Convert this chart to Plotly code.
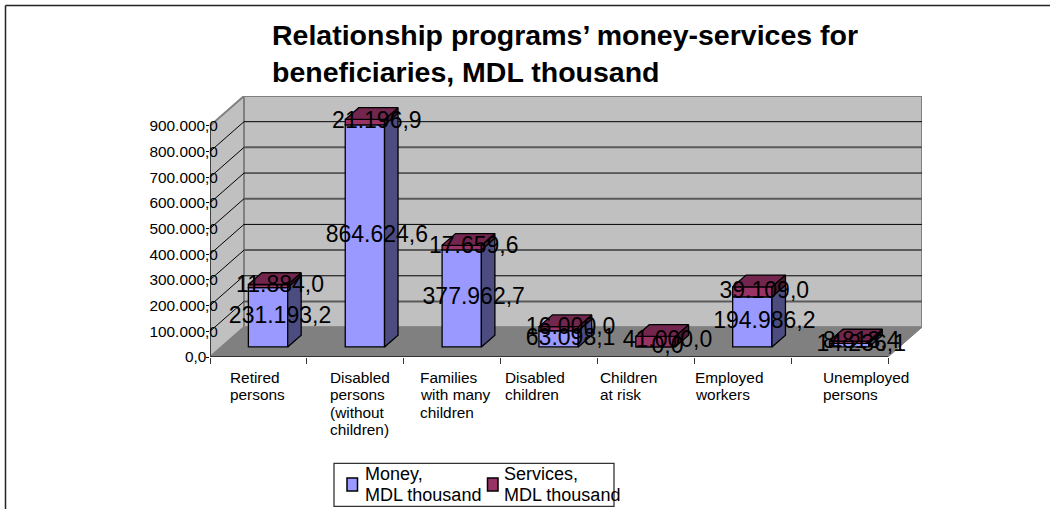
import plotly.graph_objects as go

# Chart values, MDL thousand
categories = ["Retired<br>persons", "Disabled<br>persons<br>(without<br>children)",
              "Families<br>with many<br>children", "Disabled<br>children",
              "Children<br>at risk", "Employed<br>workers", "Unemployed<br>persons"]
money = [231193.2, 864624.6, 377962.7, 63098.1, 0.0, 194986.2, 14236.1]
services = [11884.0, 21196.9, 17659.6, 16000.0, 41000.0, 39109.0, 8813.4]
tick_values = [0, 100000, 200000, 300000, 400000, 500000, 600000, 700000, 800000, 900000]
tick_labels = ["0,0\u00a0\u00a0\u2009", "100.000,0", "200.000,0", "300.000,0", "400.000,0",
               "500.000,0", "600.000,0", "700.000,0", "800.000,0", "900.000,0"]
series_names = ["Money,<br>MDL thousand", "Services,<br>MDL thousand"]
title_text = "Relationship programs’ money-services for<br>beneficiaries, MDL thousand"

# Page geometry of the oblique box, in pixels
W, H = 1050, 509
LEFT, BASE, RIGHT, TOP = 210, 356.7, 922, 96
STEP_PX = 96.86
UNIT_PX = 25.56 / 100000       # pixels per MDL thousand
BOX_DX_PX, BOX_DY_PX = 34, 29.7
BAR_W_PX, BAR_DX_PX, BAR_DY_PX = 39.3, 13.5, 11.7
BAR_SHIFT_PX, BAR_FLOOR_PX, LABEL_SHIFT_PX = 9.6, 10, 12

SANS = "Liberation Sans, Arial, sans-serif"
MONEY_COLORS = ("#9999FF", "#4C4C80")
SERVICE_COLORS = ("#993366", "#4D1A33", "#73264D")

ux = 1 / STEP_PX
uy = 1 / UNIT_PX
x0 = -0.5
x_end = 6.5
box_dx, box_dy = BOX_DX_PX * ux, BOX_DY_PX * uy
bar_w, bar_dx, bar_dy = BAR_W_PX * ux, BAR_DX_PX * ux, BAR_DY_PX * uy
floor = BAR_FLOOR_PX * uy
top_value = tick_values[-1]
centres = [i + BAR_SHIFT_PX * ux for i in range(len(money))]


def px(x):
    return (x - LEFT) / (RIGHT - LEFT)


def py(y):
    return (BASE - y) / (BASE - TOP)


def poly(points, fill, line="black", width=1.3):
    path = "M" + " L".join(f"{a},{b}" for a, b in points) + " Z"
    return dict(type="path", path=path, xref="x", yref="y", layer="below",
                fillcolor=fill, line=dict(color=line, width=width))


def seg(a, b, color, width):
    return dict(type="line", xref="x", yref="y", layer="below", x0=a[0], y0=a[1],
                x1=b[0], y1=b[1], line=dict(color=color, width=width))


def face_trace(points, fill):
    xs = [p[0] for p in points] + [points[0][0]]
    ys = [p[1] for p in points] + [points[0][1]]
    return go.Scatter(x=xs, y=ys, mode="lines", fill="toself", fillcolor=fill,
                      line=dict(color="black", width=1.3), hoverinfo="skip", showlegend=False)


def fmt(v):
    whole, dec = f"{v:,.1f}".split(".")
    return whole.replace(",", ".") + "," + dec


fig = go.Figure()

# Front faces are ordinary stacked bars lifted off the floor edge
money_base = [floor] * len(money)
service_base = [floor + m for m in money]
fig.add_bar(x=centres, y=money, base=money_base, width=bar_w, name="Money",
            marker=dict(color=MONEY_COLORS[0], line=dict(color="black", width=1.3)))
fig.add_bar(x=centres, y=services, base=service_base, width=bar_w, name="Services",
            marker=dict(color=SERVICE_COLORS[0], line=dict(color="black", width=1.3)))

# Side and top faces
for c, m, s in zip(centres, money, services):
    xr, xl = c + bar_w / 2, c - bar_w / 2
    b0, b1, b2 = floor, floor + m, floor + m + s
    if m > 0:
        fig.add_trace(face_trace([(xr, b0), (xr + bar_dx, b0 + bar_dy),
                                  (xr + bar_dx, b1 + bar_dy), (xr, b1)], MONEY_COLORS[1]))
    fig.add_trace(face_trace([(xr, b1), (xr + bar_dx, b1 + bar_dy),
                              (xr + bar_dx, b2 + bar_dy), (xr, b2)], SERVICE_COLORS[1]))
    fig.add_trace(face_trace([(xl, b2), (xr, b2), (xr + bar_dx, b2 + bar_dy),
                              (xl + bar_dx, b2 + bar_dy)], SERVICE_COLORS[2]))

# Value labels at the middle of each stacked segment
label_x = [c + LABEL_SHIFT_PX * ux for c in centres]
fig.add_scatter(x=label_x, y=[floor + m / 2 for m in money], mode="text",
                text=[fmt(v) for v in money], textposition="middle center",
                textfont=dict(family=SANS, size=23, color="black"),
                cliponaxis=False, hoverinfo="skip", showlegend=False)
fig.add_scatter(x=label_x, y=[floor + m + s / 2 for m, s in zip(money, services)], mode="text",
                text=[fmt(v) for v in services], textposition="middle center",
                textfont=dict(family=SANS, size=23, color="black"),
                cliponaxis=False, hoverinfo="skip", showlegend=False)

# Walls and floor of the box
wall_top = top_value
shapes = [
    poly([(x0 + box_dx, box_dy), (x0 + box_dx, wall_top + box_dy),
          (x_end + box_dx, wall_top + box_dy), (x_end + box_dx, box_dy)], "#C0C0C0", "#808080", 2),
    poly([(x0, 0), (x0 + box_dx, box_dy), (x0 + box_dx, wall_top + box_dy), (x0, wall_top)],
         "#C0C0C0", "#808080", 2),
]
for i, v in enumerate(tick_values[1:-1]):
    thin = i % 2 == 1
    shapes.append(seg((x0 + box_dx, v + box_dy), (x_end + box_dx, v + box_dy),
                      "black" if thin else "#5A5A5A", 1 if thin else 2))
for v in tick_values[1:-1]:
    shapes.append(seg((x0, v), (x0 + box_dx, v + box_dy), "black", 1))
shapes.append(poly([(x0, 0), (x_end, 0), (x_end + box_dx, box_dy), (x0 + box_dx, box_dy)],
                   "#808080", "#808080", 1))
shapes.append(seg((x0, 0), (x0, top_value), "black", 1))
shapes.append(seg((x0, 0), (x_end, 0), "#333333", 2))

# Outer frame, open towards the right and bottom of the page
for a, b in [((5.5, 5.5), (W, 5.5)), ((5.5, 5.5), (5.5, H))]:
    shapes.append(dict(type="line", xref="paper", yref="paper", x0=px(a[0]), y0=py(a[1]),
                       x1=px(b[0]), y1=py(b[1]), line=dict(color="#222222", width=1.5)))

# Legend box and swatches
shapes.append(dict(type="rect", xref="paper", yref="paper", x0=px(334), x1=px(614),
                   y0=py(463), y1=py(506), line=dict(color="#333333", width=1.3)))
for sx, color in [(347, MONEY_COLORS[0]), (487.5, SERVICE_COLORS[0])]:
    shapes.append(dict(type="rect", xref="paper", yref="paper", x0=px(sx), x1=px(sx + 10.5),
                       y0=py(477.5), y1=py(490.5), fillcolor=color,
                       line=dict(color="black", width=1.5)))

# Category and legend text, one annotation per line for tight leading
annotations = []
cat_left = [229.3, 329.3, 419.3, 504, 599.3, 694.3, 821.7]


def text_line(x, y, text, size):
    annotations.append(dict(xref="paper", yref="paper", x=px(x), y=py(y), text=text, showarrow=False,
                            xanchor="left", yanchor="middle", align="left",
                            xshift=-1, font=dict(family=SANS, size=size, color="black")))


for left, label in zip(cat_left, categories):
    for n, part in enumerate(label.split("<br>")):
        text_line(left, 376.7 + 17.5 * n, part, 15.4)
for left, name in zip([363.5, 503], series_names):
    for n, part in enumerate(name.split("<br>")):
        text_line(left, 474 + 21 * n, part, 18)

fig.update_layout(
    width=W, height=H, autosize=False,
    margin=dict(l=LEFT, r=W - RIGHT, t=TOP, b=H - BASE, pad=0),
    paper_bgcolor="white", plot_bgcolor="white",
    barmode="overlay", showlegend=False,
    font=dict(family=SANS, color="black"),
    title=dict(text=title_text, xref="container", yref="container", x=272 / W, xanchor="left",
               y=1 - 45 / H, yanchor="top", font=dict(family=SANS, size=28.5, color="black", weight="bold")),
    shapes=shapes, annotations=annotations,
    xaxis=dict(range=[x0, x_end + box_dx], tickmode="array",
               tickvals=[i - 0.5 for i in range(8)], ticktext=[""] * 8,
               ticks="outside", ticklen=6, tickwidth=1, tickcolor="#333333",
               showgrid=False, zeroline=False, showline=False, fixedrange=True),
    yaxis=dict(range=[0, top_value + box_dy], tickmode="array",
               tickvals=tick_values, ticktext=tick_labels,
               ticks="outside", ticklen=3, tickwidth=1, tickcolor="black",
               ticklabelstandoff=-15,
               tickfont=dict(family=SANS, size=15.4, color="black"),
               showgrid=False, zeroline=False, showline=False, fixedrange=True),
)

fig.write_html("out.html", config={"displayModeBar": False})
